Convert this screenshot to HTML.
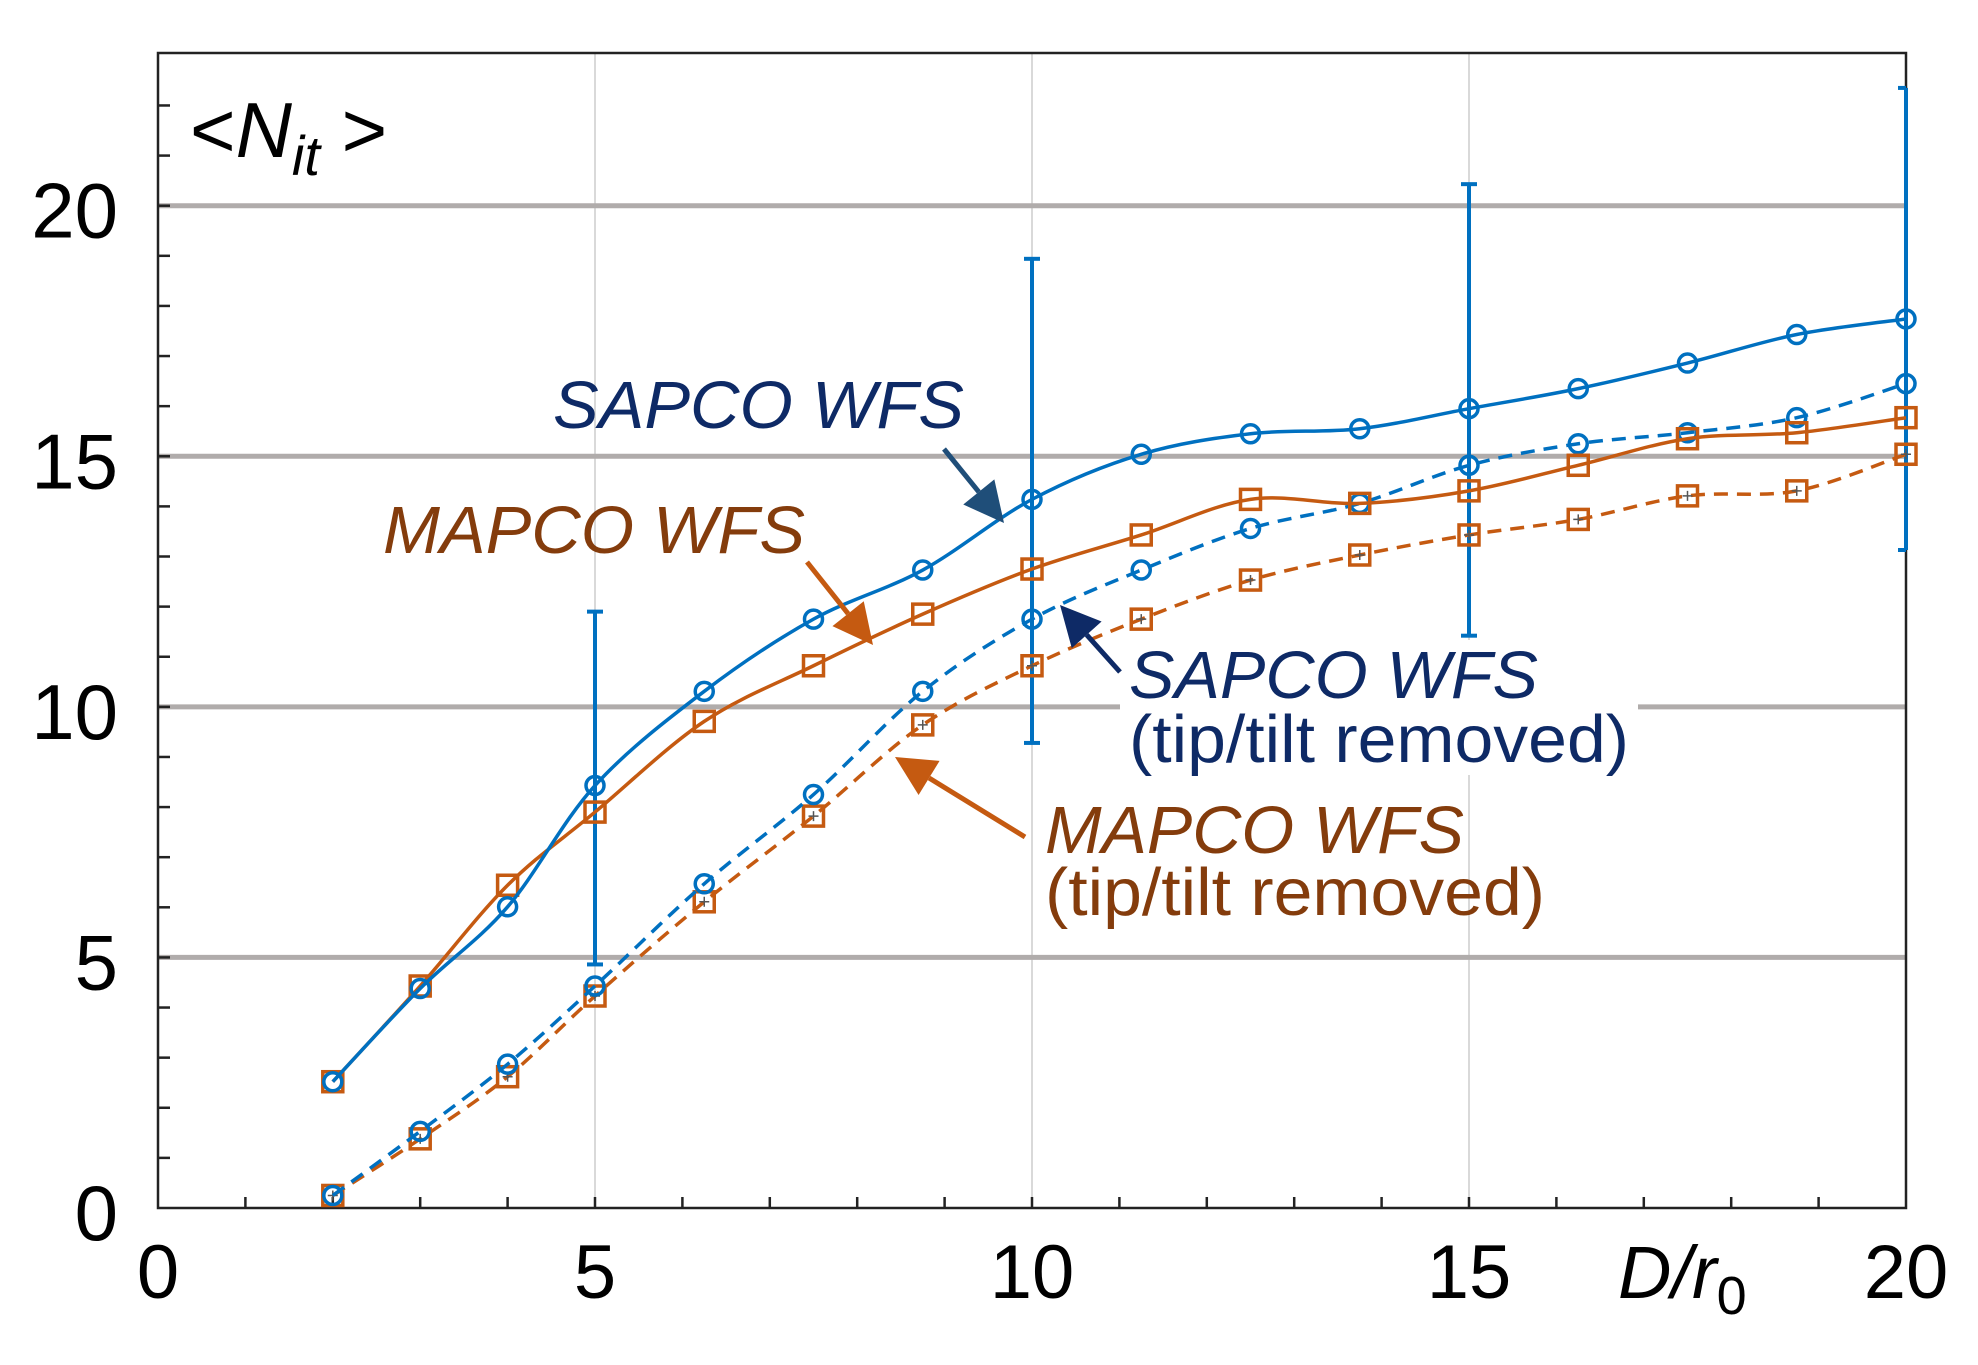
<!DOCTYPE html>
<html><head><meta charset="utf-8"><style>
html,body{margin:0;padding:0;background:#fff}
svg{display:block}
text{font-family:"Liberation Sans",sans-serif}
</style></head><body>
<svg id="chart" width="1978" height="1365" viewBox="0 0 1978 1365" xmlns="http://www.w3.org/2000/svg">
<g id="grid"></g>
<g id="axes"></g>
<g id="series"></g>
<g id="annot">
  <text x="190" y="157" font-size="78">&lt;<tspan font-style="italic">N</tspan><tspan font-style="italic" font-size="56" dy="18">it</tspan><tspan dy="-18"> &gt;</tspan></text>
  <text x="1618" y="1298" font-size="74" font-style="italic">D/r<tspan font-style="normal" font-size="54" dy="16">0</tspan></text>
  <text x="553" y="428" font-size="67" font-style="italic" fill="#0e2a66" textLength="411" lengthAdjust="spacingAndGlyphs">SAPCO WFS</text>
  <text x="383" y="553" font-size="67" font-style="italic" fill="#843c0c" textLength="422" lengthAdjust="spacingAndGlyphs">MAPCO WFS</text>
  <rect x="1120" y="640" width="518" height="135" fill="#fff"/>
  <text x="1129" y="698" font-size="67" font-style="italic" fill="#0e2a66" textLength="409" lengthAdjust="spacingAndGlyphs">SAPCO WFS</text>
  <text x="1129" y="762" font-size="67" fill="#0e2a66" textLength="500" lengthAdjust="spacingAndGlyphs">(tip/tilt  removed)</text>
  <text x="1045" y="853" font-size="67" font-style="italic" fill="#843c0c" textLength="419" lengthAdjust="spacingAndGlyphs">MAPCO WFS</text>
  <text x="1045" y="915" font-size="67" fill="#843c0c" textLength="500" lengthAdjust="spacingAndGlyphs">(tip/tilt  removed)</text>
</g>
<g id="arrows"></g>
</svg>
<script>
const xVals=[2,3,4,5,6.25,7.5,8.75,10,11.25,12.5,13.75,15,16.25,17.5,18.75,20];
const sapco=[2.52,4.38,6.01,8.43,10.31,11.75,12.73,14.14,15.04,15.45,15.55,15.95,16.35,16.86,17.43,17.74];
const mapco=[2.52,4.43,6.44,7.90,9.71,10.82,11.85,12.75,13.43,14.14,14.06,14.31,14.82,15.35,15.47,15.77];
const sapcoTT=[0.25,1.53,2.87,4.43,6.47,8.25,10.31,11.75,12.73,13.56,14.06,14.82,15.25,15.47,15.77,16.45];
const mapcoTT=[0.25,1.38,2.62,4.23,6.11,7.82,9.64,10.82,11.75,12.53,13.03,13.43,13.74,14.21,14.31,15.04];
const errX=[5,10,15,20];
const errHi=[11.9,18.94,20.43,22.35];
const errLo=[4.86,9.28,11.42,13.13];
const xTicks=[0,5,10,15,20];
const xTickLabels=["0","5","10","15","20"];
const yTicks=[0,5,10,15,20];
const yTickLabels=["0","5","10","15","20"];

const X0=158,X1=1906,Y0=1208,YT=53;
const sx=v=>X0+(X1-X0)*v/20;
const sy=v=>Y0-(Y0-205.7)*v/20;
const NS="http://www.w3.org/2000/svg";
function mk(tag,parent,attrs){const e=document.createElementNS(NS,tag);for(const k in attrs)e.setAttribute(k,attrs[k]);parent.appendChild(e);return e;}
const grid=document.getElementById('grid'),axes=document.getElementById('axes'),ser=document.getElementById('series'),arr=document.getElementById('arrows');

[5,10,15].forEach(v=>{const l=mk('line',grid,{x1:sx(v),x2:sx(v),y1:YT,y2:Y0,stroke:'#d9d9d9','stroke-width':2});

});
[5,10,15,20].forEach(v=>{const l=mk('line',grid,{x1:X0,x2:X1,y1:sy(v),y2:sy(v),stroke:'#b0acab','stroke-width':5});

});

const fr=mk('rect',axes,{x:X0,y:YT,width:X1-X0,height:Y0-YT,fill:'none',stroke:'#222','stroke-width':2.5});


for(let i=1;i<20;i++){const t=mk('line',axes,{x1:sx(i),x2:sx(i),y1:Y0,y2:Y0-11,stroke:'#222','stroke-width':2.5});

}
for(let i=1;i<23;i++){const t=mk('line',axes,{x1:X0,x2:X0+12,y1:sy(i),y2:sy(i),stroke:'#222','stroke-width':2.5});

}
xTicks.forEach((v,i)=>{const t=mk('text',axes,{x:sx(v),y:1298,'font-size':76,'text-anchor':'middle'});t.textContent=xTickLabels[i];

});
yTicks.forEach((v,i)=>{const t=mk('text',axes,{x:118,y:sy(v)+32,'font-size':78,'text-anchor':'end'});t.textContent=yTickLabels[i];

});

errX.forEach((v,i)=>{const g=mk('g',ser,{stroke:'#0070c0','stroke-width':4});


const x=sx(v);mk('line',g,{x1:x,x2:x,y1:sy(errHi[i]),y2:sy(errLo[i])});
mk('line',g,{x1:x-8,x2:v===20?x:x+8,y1:sy(errHi[i]),y2:sy(errHi[i])});
mk('line',g,{x1:x-8,x2:v===20?x:x+8,y1:sy(errLo[i]),y2:sy(errLo[i])});});

function smooth(pts){let d=`M${pts[0][0]},${pts[0][1]}`;
for(let i=0;i<pts.length-1;i++){const p0=pts[Math.max(0,i-1)],p1=pts[i],p2=pts[i+1],p3=pts[Math.min(pts.length-1,i+2)];
const t=1/6;d+=` C${p1[0]+(p2[0]-p0[0])*t},${p1[1]+(p2[1]-p0[1])*t} ${p2[0]-(p3[0]-p1[0])*t},${p2[1]-(p3[1]-p1[1])*t} ${p2[0]},${p2[1]}`;}
return d;}
function series(vals,color,dash,marker,name,plus){const g=mk('g',ser,{});


const pts=xVals.map((x,i)=>[sx(x),sy(vals[i])]);
const a={d:smooth(pts),fill:'none',stroke:color,'stroke-width':3.5};if(dash)a['stroke-dasharray']='14 9';
mk('path',g,a);
pts.forEach(p=>{let m;
if(marker==='c')m=mk('circle',g,{cx:p[0],cy:p[1],r:9,fill:'none',stroke:color,'stroke-width':3.5});
else m=mk('rect',g,{x:p[0]-10,y:p[1]-10,width:20,height:20,fill:'none',stroke:color,'stroke-width':3.5});


if(plus){mk('path',g,{d:`M${p[0]-5},${p[1]}h10M${p[0]},${p[1]-5}v10`,stroke:'#555','stroke-width':1.5});}});}
series(mapcoTT,'#c55a11',true,'s','series-mapco-tt',true);
series(sapcoTT,'#0070c0',true,'c','series-sapco-tt',false);
series(mapco,'#c55a11',false,'s','series-mapco',false);
series(sapco,'#0070c0',false,'c','series-sapco',false);

function arrow(x1,y1,x2,y2,color,name){const g=mk('g',arr,{});


const dx=x2-x1,dy=y2-y1,L=Math.hypot(dx,dy),ux=dx/L,uy=dy/L,hl=40,hw=20;
const bx=x2-ux*hl,by=y2-uy*hl;
mk('line',g,{x1:x1,y1:y1,x2:bx,y2:by,stroke:color,'stroke-width':5});
mk('polygon',g,{points:`${x2},${y2} ${bx-uy*hw},${by+ux*hw} ${bx+uy*hw},${by-ux*hw}`,fill:color});}
arrow(944,449,1004,523,'#1f4e79','arrow-sapco');
arrow(807,562,873,645,'#c55a11','arrow-mapco');
arrow(1120,672,1060,605,'#0e2a66','arrow-sapco-tt');
arrow(1025,837,895,757,'#c55a11','arrow-mapco-tt');
</script>
</body></html>
